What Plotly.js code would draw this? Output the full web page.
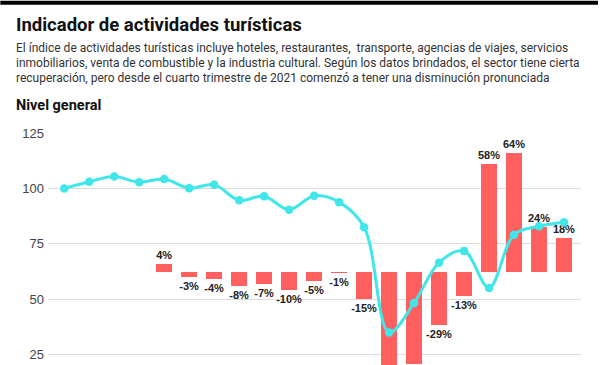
<!DOCTYPE html>
<html>
<head>
<meta charset="utf-8">
<script src="https://cdn.plot.ly/plotly-3.0.1.min.js"></script>
<style>
html,body{margin:0;padding:0;background:#fff;overflow:hidden;}
#chart{width:600px;height:365px;}
</style>
</head>
<body>
<div id="chart"></div>
<script>
// Quarters (I-2017 .. I-2022)
const quarters = [
  "I-17","II-17","III-17","IV-17",
  "I-18","II-18","III-18","IV-18",
  "I-19","II-19","III-19","IV-19",
  "I-20","II-20","III-20","IV-20",
  "I-21","II-21","III-21","IV-21",
  "I-22"
];
// Nivel general (index)
const nivel = [100, 103, 105.4, 102.8, 104.2, 100.1, 101.7, 94.6, 96.5, 90.4,
               96.7, 93.8, 82.5, 35, 48.3, 66.5, 71.8, 55.1, 79.1, 82.9, 84.7];
// Year-on-year change (%), from I-18 onward
const varQuarters = quarters.slice(4);
const variacion = [4, -3, -4, -8, -7, -10, -5, -1, -15, -61, -50, -29, -13, 58, 64, 24, 18];
const yTicks = [25, 50, 75, 100, 125];

const L = 47.7, R = 581, T = 132.5, B = 365, FW = 600, FH = 365;
const xp = px => (px - L) / (R - L);
const yp = py => (B - py) / (B - T);

const pctRange = [-50.6, 75.0];
const barLabels = variacion.map(v => v + "%");
// labels whose bar runs past the bottom of the visible frame are not shown (as in the reference)
const barTextPos = variacion.map(v => v < pctRange[0] + 2 ? "none" : "outside");

const uiFont = "Roboto, Liberation Sans, Arial, sans-serif";

const bars = {
  type: "bar",
  x: varQuarters,
  y: variacion,
  yaxis: "y",
  marker: {color: "#ff5f5f"},
  width: 0.64,
  text: barLabels,
  texttemplate: "%{text}",
  textposition: barTextPos,
  constraintext: "none",
  cliponaxis: true,
  textfont: {family: "Liberation Sans, Arial, sans-serif", size: 11, color: "#222", weight: "bold"},
  hoverinfo: "x+y"
};
const line = {
  type: "scatter",
  mode: "lines+markers",
  x: quarters,
  y: nivel,
  yaxis: "y2",
  line: {color: "#40e6e8", width: 3, shape: "spline", smoothing: 1},
  marker: {color: "#40e6e8", size: 8.5},
  cliponaxis: false
};

const layout = {
  width: FW, height: FH,
  margin: {l: L, r: FW - R, t: T, b: FH - B, pad: 0},
  paper_bgcolor: "#fff", plot_bgcolor: "#fff",
  showlegend: false,
  bargap: 0,
  xaxis: {
    type: "category",
    categoryorder: "array", categoryarray: quarters,
    range: [-0.65, 20.68],
    showticklabels: false, showgrid: false, zeroline: false, showline: false, ticks: ""
  },
  yaxis: {
    range: pctRange,
    visible: false, showgrid: false, zeroline: false
  },
  yaxis2: {
    overlaying: "y", side: "left",
    range: [20.3, 125],
    tickvals: yTicks,
    ticks: "", showline: false, zeroline: false,
    gridcolor: "#dcdcdc", gridwidth: 1,
    tickfont: {family: "Liberation Sans, Arial, sans-serif", size: 13, color: "#444"},
    ticklabelstandoff: 3
  },
  shapes: [
    {type: "rect", xref: "paper", yref: "paper", x0: xp(0), x1: xp(598), y0: yp(4), y1: yp(0),
     fillcolor: "#000", line: {width: 0}, layer: "above"}
  ],
  annotations: [
    {text: "Indicador de actividades turísticas", xref: "paper", yref: "paper",
     x: xp(14), y: yp(24.5), xanchor: "left", yanchor: "middle", showarrow: false,
     font: {family: uiFont, size: 18.5, color: "#111", weight: "bold"}},
    {text: "El índice de actividades turísticas incluye hoteles, restaurantes,  transporte, agencias de viajes, servicios",
     xref: "paper", yref: "paper", x: xp(14), y: yp(47), xanchor: "left", yanchor: "middle", showarrow: false,
     font: {family: uiFont, size: 12, color: "#333"}},
    {text: "inmobiliarios, venta de combustible y la industria cultural. Según los datos brindados, el sector tiene cierta",
     xref: "paper", yref: "paper", x: xp(14), y: yp(62.3), xanchor: "left", yanchor: "middle", showarrow: false,
     font: {family: uiFont, size: 12, color: "#333"}},
    {text: "recuperación, pero desde el cuarto trimestre de 2021 comenzó a tener una disminución pronunciada",
     xref: "paper", yref: "paper", x: xp(14), y: yp(77.3), xanchor: "left", yanchor: "middle", showarrow: false,
     font: {family: uiFont, size: 12, color: "#333"}},
    {text: "Nivel general", xref: "paper", yref: "paper",
     x: xp(14), y: yp(105), xanchor: "left", yanchor: "middle", showarrow: false,
     font: {family: uiFont, size: 14.5, color: "#111", weight: "bold"}}
  ]
};

Plotly.newPlot("chart", [bars, line], layout, {displayModeBar: false, staticPlot: true});
</script>
</body>
</html>
